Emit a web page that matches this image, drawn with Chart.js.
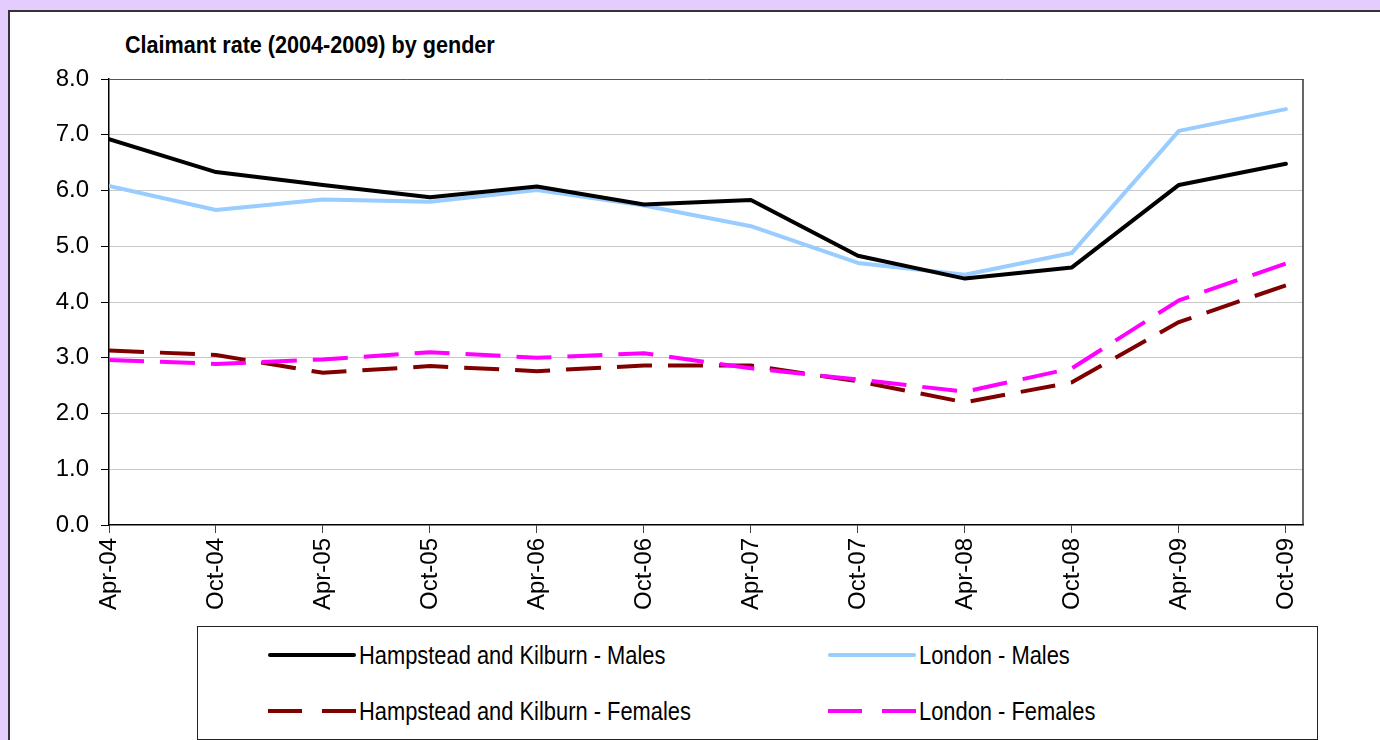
<!DOCTYPE html>
<html>
<head>
<meta charset="utf-8">
<script src="https://cdn.jsdelivr.net/npm/chart.js@4"></script>
<style>
    body { margin: 0; width: 1380px; height: 740px; overflow: hidden; background: #e5ccff; position: relative; }
    #panel { position: absolute; left: 8px; top: 10px; width: 1400px; height: 760px; background: #fff; border: 2px solid #333; }
    #wrap { position: absolute; left: 0; top: 0; width: 1380px; height: 620px; }
    #title { position: absolute; left: 125px; top: 31px; font: bold 24px "Liberation Sans Narrow", "Arial Narrow", "Liberation Sans", sans-serif; color: #000; white-space: nowrap; transform: scaleX(0.9); transform-origin: left center; }
    #legend { position: absolute; left: 197px; top: 626px; width: 1119px; height: 112px; border: 1.5px solid #222; background: #fff; }
    .item { position: absolute; height: 30px; display: flex; align-items: center; font: 25px "Liberation Sans Narrow", "Arial Narrow", "Liberation Sans", sans-serif; color: #000; white-space: nowrap; }
    .item svg { margin-right: 3px; }
    .item span { display: inline-block; transform: scaleX(0.875); transform-origin: left center; }
</style>
</head>
<body>
<div id="panel"></div>
<div id="title">Claimant rate (2004-2009) by gender</div>
<div id="wrap"><canvas id="chart" width="1380" height="620"></canvas></div>
<div id="legend"></div>
<script>
const periods = ["Apr-04", "Oct-04", "Apr-05", "Oct-05", "Apr-06", "Oct-06",
                 "Apr-07", "Oct-07", "Apr-08", "Oct-08", "Apr-09", "Oct-09"];
const hkMales       = [6.92, 6.33, 6.10, 5.88, 6.07, 5.75, 5.83, 4.83, 4.42, 4.62, 6.10, 6.48];
const londonMales   = [6.08, 5.65, 5.84, 5.80, 6.01, 5.73, 5.36, 4.70, 4.49, 4.88, 7.07, 7.46];
const hkFemales     = [3.13, 3.05, 2.73, 2.85, 2.76, 2.86, 2.86, 2.58, 2.20, 2.56, 3.64, 4.30];
const londonFemales = [2.96, 2.89, 2.97, 3.10, 3.00, 3.08, 2.81, 2.61, 2.39, 2.81, 4.03, 4.69];
const yTicks = [0, 1, 2, 3, 4, 5, 6, 7, 8];

const FONT = '"Liberation Sans Narrow", "Arial Narrow", "Liberation Sans", sans-serif';

const series = [
    { label: "Hampstead and Kilburn - Males",   data: hkMales,       color: "#000000", dash: [],       order: 1, col: 0, row: 0 },
    { label: "London - Males",                  data: londonMales,   color: "#99ccff", dash: [],       order: 2, col: 1, row: 0 },
    { label: "Hampstead and Kilburn - Females", data: hkFemales,     color: "#800000", dash: [35, 16], order: 4, col: 0, row: 1 },
    { label: "London - Females",                data: londonFemales, color: "#ff00ff", dash: [35, 16], order: 3, col: 1, row: 1 },
];

// right-hand border of the plot area
const plotBorder = {
    id: "plotBorder",
    afterDraw(chart) {
        const a = chart.chartArea;
        const ctx = chart.ctx;
        ctx.save();
        ctx.strokeStyle = "#333";
        ctx.lineWidth = 1.5;
        ctx.beginPath();
        ctx.moveTo(a.right, a.top);
        ctx.lineTo(a.right, a.bottom);
        ctx.stroke();
        ctx.restore();
    }
};

new Chart(document.getElementById("chart"), {
    type: "line",
    data: {
        datasets: series.map(s => ({
            label: s.label,
            data: s.data.map((v, i) => ({ x: i, y: v })),
            borderColor: s.color,
            backgroundColor: s.color,
            borderWidth: 4,
            borderDash: s.dash,
            borderCapStyle: s.dash.length ? "butt" : "round",
            borderJoinStyle: "round",
            pointRadius: 0,
            tension: 0,
            order: s.order,
        })),
    },
    options: {
        responsive: false,
        animation: false,
        devicePixelRatio: 1,
        layout: { padding: { left: 0, top: 79, right: 77, bottom: 0 } },
        plugins: {
            legend: { display: false },
            tooltip: { enabled: false },
        },
        scales: {
            x: {
                type: "linear",
                min: 0,
                max: 11.16,
                afterFit: (scale) => { scale.height = 95; },
                ticks: {
                    stepSize: 1,
                    includeBounds: false,
                    autoSkip: false,
                    maxRotation: 90,
                    minRotation: 90,
                    padding: 5,
                    color: "#000",
                    font: { family: FONT, size: 24 },
                    callback: (v) => periods[v] !== undefined ? periods[v] : "",
                },
                grid: { drawOnChartArea: false, tickLength: 8, tickColor: "#444" },
                border: { color: "#000", width: 1.5 },
            },
            y: {
                min: 0,
                max: 8,
                afterFit: (scale) => { scale.width = 109; },
                afterBuildTicks: (scale) => { scale.ticks = yTicks.map(v => ({ value: v })); },
                ticks: {
                    padding: 12,
                    color: "#000",
                    font: { family: FONT, size: 24 },
                    callback: (v) => v.toFixed(1),
                },
                grid: {
                    tickLength: 8,
                    tickColor: "#000",
                    lineWidth: 1,
                    color: (ctx) => {
                        if (ctx.tick.value === 0) return "rgba(0,0,0,0)";
                        if (ctx.tick.value === 8) return "#555";
                        return "#c8c8c8";
                    },
                },
                border: { color: "#000", width: 1.5 },
            },
        },
    },
    plugins: [plotBorder],
});

// legend: 2 x 2 grid inside the box
const legend = document.getElementById("legend");
const colX = [70, 630];
const rowY = [13, 69];
series.forEach(s => {
    const item = document.createElement("div");
    item.className = "item";
    item.style.left = colX[s.col] + "px";
    item.style.top = rowY[s.row] + "px";
    const dash = s.dash.length ? 'stroke-dasharray="34 20"' : 'stroke-linecap="round"';
    item.innerHTML =
        '<svg width="88" height="8"><line x1="' + (s.dash.length ? 0 : 2) + '" y1="4" x2="' + (s.dash.length ? 88 : 86) +
        '" y2="4" stroke="' + s.color + '" stroke-width="4" ' + dash + '/></svg>' +
        '<span>' + s.label + '</span>';
    legend.appendChild(item);
});
</script>
</body>
</html>
